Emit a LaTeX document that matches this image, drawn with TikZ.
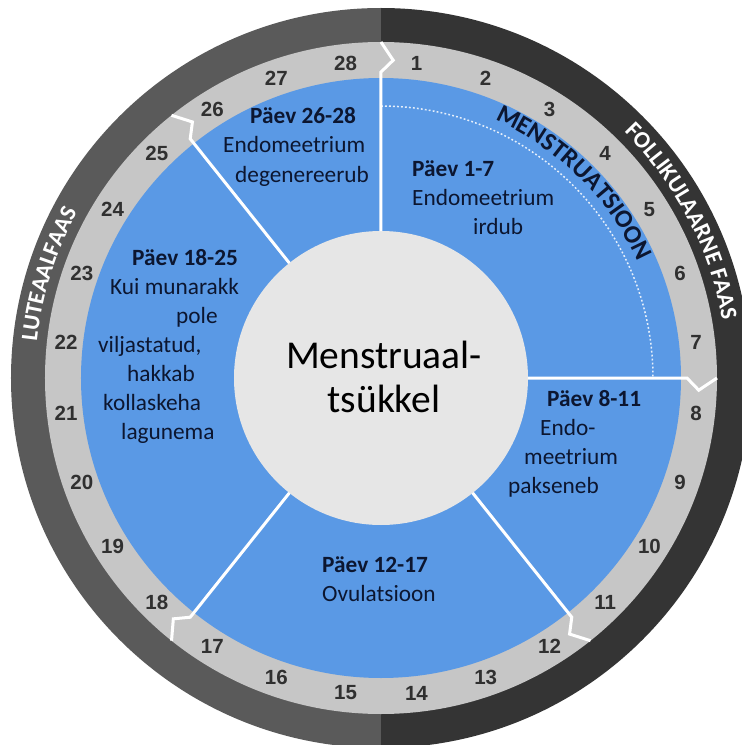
\documentclass[tikz,border=0pt]{standalone}
\usepackage{fontspec}
\setmainfont{Carlito}
\newfontfamily\numfont{Liberation Sans}
\usepackage{tikz}
\usetikzlibrary{decorations.text}

\definecolor{ringleft}{RGB}{90,90,90}
\definecolor{ringright}{RGB}{52,52,52}
\definecolor{ringgray}{RGB}{198,198,198}
\definecolor{phaseblue}{RGB}{90,153,229}
\definecolor{hubgray}{RGB}{230,230,230}
\definecolor{daygray}{RGB}{48,48,48}
\definecolor{inknavy}{RGB}{12,22,48}

\begin{document}
\begin{tikzpicture}[x=1pt,y=1pt,
    daynum/.style={font=\numfont\bfseries\fontsize{20.5}{20.5}\selectfont, text=daygray, inner sep=0pt},
    phaseline/.style={font=\fontsize{23.3}{29}\selectfont, text=inknavy, anchor=base west, inner sep=0pt},
    divider/.style={white, line width=3pt},
    hubline/.style={font=\fontsize{39.5}{44}\selectfont, anchor=base, inner sep=0pt}]
            % Frame
            \useasboundingbox (-381,-367) rectangle (361,378);
            \fill[white] (-381,-367) rectangle (361,378);
            \clip (-381,-367) rectangle (361,378);
            % Rings
            \fill[ringright] (90:370) arc[start angle=90, end angle=-90, radius=370] -- cycle;
            \fill[ringleft] (90:370) arc[start angle=90, end angle=270, radius=370] -- cycle;
            \fill[ringgray] (0,0) circle[radius=336];
            \fill[phaseblue] (0,0) circle[radius=300];
            \node[circle, fill=hubgray, minimum size=294pt, inner sep=0pt] (hub) at (0,0) {};
            % Menstruation arc
            \draw[white, opacity=0.85, line width=1.5pt, dash pattern=on 1.8pt off 2.2pt]
            (90:272) arc[start angle=90, end angle=0, radius=272];
            % Phase borders
            \foreach \a in {0, 90, 141.43, 218.57, 321.43}
              \draw[divider] (90-\a:147) -- (90-\a:300) -- (90-\a:306)
              -- (90-\a-2.2:318) -- (90-\a:336);
            % Days
            \foreach \d in {1,...,28}
              \node[daynum] (day\d) at ({90-(\d-0.5)*360/28}:317) {\d};
            % Phase names
            \path[decorate, decoration={text along path, text align=center,
              text={|\color{white}\bfseries\fontsize{23.5}{23.5}\selectfont|FOLLIKULAARNE FAAS}}]
            (57.5:346) arc[start angle=57.5, end angle=-2.5, radius=346];
            \path[decorate, decoration={text along path, text align=center,
              text={|\color{white}\bfseries\fontsize{23.5}{23.5}\selectfont|LUTEAALFAAS}}]
            (-172.4:346) arc[start angle=-172.4, end angle=-222.4, radius=346];
            \path[decorate, decoration={text along path, text align=center,
              text={|\color{inknavy}\bfseries\fontsize{25.5}{25.5}\selectfont|MENSTRUATSIOON}}]
            (75.3:282) arc[start angle=75.3, end angle=15.3, radius=282];
            % Centre
            \node[hubline] (hub1) at (3,10) {Menstruaal-};
            \node[hubline] (hub2) at (3,-34) {tsükkel};
            % Phase texts
            \foreach \txt/\dx [count=\k] in {{\textbf{Päev 1-7}}/0, Endomeetrium/0, irdub/61}
              \node[phaseline] (pa\k) at ({31+\dx}, {201-29*(\k-1)}) {\txt};
            \foreach \txt/\dx [count=\k] in {{\textbf{Päev 8-11}}/39, Endo-/32, meetrium/16, pakseneb/0}
              \node[phaseline] (pb\k) at ({127+\dx}, {-28-29*(\k-1)}) {\txt};
            \foreach \txt/\dx [count=\k] in {{\textbf{Päev 12-17}}/0, Ovulatsioon/0}
              \node[phaseline] (pc\k) at ({-59+\dx}, {-194-29*(\k-1)}) {\txt};
            \foreach \txt/\dx [count=\k] in {{\textbf{Päev 18-25}}/34, Kui munarakk/12, pole/78,
              {viljastatud,}/0, hakkab/29, kollaskeha/5, lagunema/23}
              \node[phaseline] (pd\k) at ({-283+\dx}, {113-29*(\k-1)}) {\txt};
            \foreach \txt/\dx [count=\k] in {{\textbf{Päev 26-28}}/27, Endomeetrium/0, degenereerub/12}
              \node[phaseline] (pe\k) at ({-158+\dx}, {254-29*(\k-1)}) {\txt};
          \end{tikzpicture}
\end{document}
